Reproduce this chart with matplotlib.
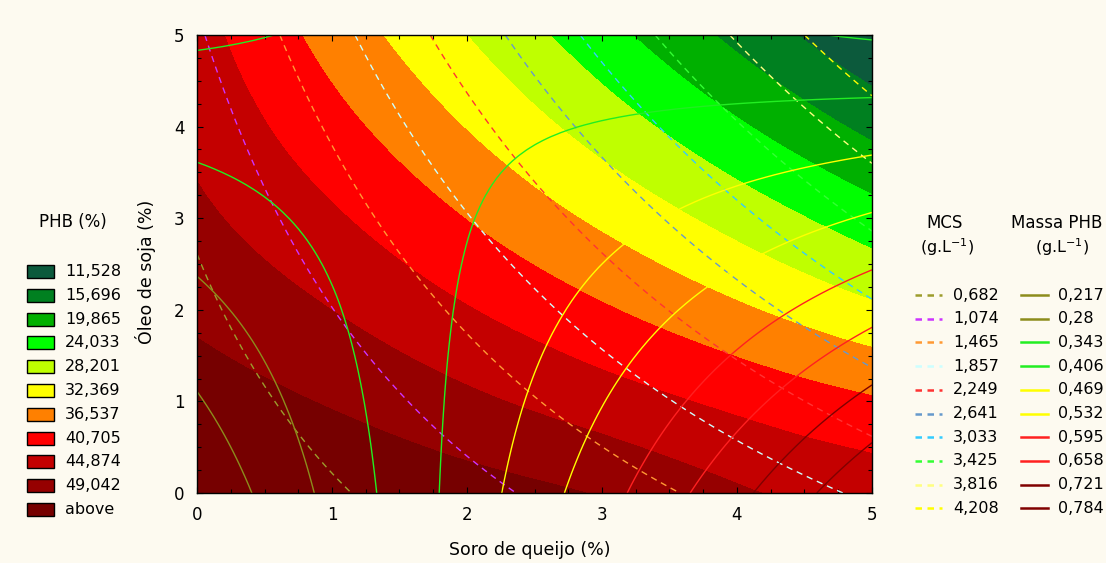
import numpy as np
import matplotlib
matplotlib.use('Agg')
import matplotlib.pyplot as plt
import matplotlib.tri as mtri
from matplotlib.patches import Rectangle
from matplotlib.lines import Line2D
from matplotlib.ticker import MultipleLocator

# Grid nodes (Soro de queijo %, Óleo de soja %)
soro = [0, 1, 2, 3, 4, 5]
oleo = [0, 1, 2, 3, 4, 5]

# PHB (%) read at the grid nodes; rows = oleo 0..5, cols = soro 0..5
phb = [
    [53.80, 52.78, 50.77, 48.73, 45.40, 43.20],
    [51.00, 48.68, 45.73, 42.74, 39.71, 37.00],
    [48.20, 44.85, 40.95, 37.01, 33.03, 29.02],
    [45.70, 41.28, 36.43, 31.54, 26.62, 21.66],
    [43.80, 37.98, 32.18, 26.34, 20.47, 14.56],
    [42.20, 34.94, 28.19, 21.41, 14.59, 7.73],
]
# MCS (g/L)
mcs = [
    [0.317, 0.636, 0.957, 1.279, 1.602, 1.927],
    [0.454, 0.850, 1.248, 1.647, 2.047, 2.448],
    [0.595, 1.068, 1.542, 2.017, 2.494, 2.972],
    [0.738, 1.288, 1.839, 2.391, 2.944, 3.499],
    [0.884, 1.511, 2.138, 2.767, 3.398, 4.029],
    [1.033, 1.737, 2.441, 3.147, 3.854, 4.562],
]
# Massa PHB (g/L)
massa = [
    [0.1616, 0.2979, 0.4340, 0.5697, 0.7047, 0.8388],
    [0.2116, 0.3178, 0.4239, 0.5296, 0.6347, 0.7390],
    [0.2616, 0.3376, 0.4136, 0.4892, 0.5644, 0.6388],
    [0.3120, 0.3576, 0.4033, 0.4488, 0.4939, 0.5383],
    [0.3629, 0.3781, 0.3934, 0.4086, 0.4235, 0.4378],
    [0.4148, 0.3994, 0.3842, 0.3690, 0.3536, 0.3376],
]

phb_levels = [11.528, 15.696, 19.865, 24.033, 28.201, 32.369, 36.537, 40.705, 44.874, 49.042]
phb_labels = ['11,528', '15,696', '19,865', '24,033', '28,201', '32,369', '36,537', '40,705', '44,874', '49,042', 'above']
phb_colors = ['#0c5a3c', '#008020', '#00b000', '#00ff00', '#bfff00', '#ffff00', '#ff8000', '#ff0000', '#c40000', '#960000', '#760000']
mcs_levels = [0.682, 1.074, 1.465, 1.857, 2.249, 2.641, 3.033, 3.425, 3.816, 4.208]
mcs_labels = ['0,682', '1,074', '1,465', '1,857', '2,249', '2,641', '3,033', '3,425', '3,816', '4,208']
mcs_colors = ['#9c9c2c', '#cc33ff', '#ff9933', '#ccffff', '#ff3333', '#6699cc', '#33ccff', '#33ff33', '#ffff80', '#ffff00']
massa_levels = [0.217, 0.28, 0.343, 0.406, 0.469, 0.532, 0.595, 0.658, 0.721, 0.784]
massa_labels = ['0,217', '0,28', '0,343', '0,406', '0,469', '0,532', '0,595', '0,658', '0,721', '0,784']
massa_colors = ['#8c8c1c', '#8c8c1c', '#22ee22', '#22ee22', '#ffff00', '#ffff00', '#ff2020', '#ff2020', '#800000', '#800000']

W, H = 1106, 563
BG = '#fdfaf0'
plt.rcParams['font.family'] = ['DejaVu Sans']
fig = plt.figure(figsize=(W / 100, H / 100), dpi=100, facecolor=BG)
fx = lambda px: px / W
fy = lambda py: 1 - py / H
ax = fig.add_axes([fx(197), fy(493), (872 - 197) / W, (493 - 35) / H])

GX, GY = np.meshgrid(soro, oleo)
tri = mtri.Triangulation(GX.ravel().astype(float), GY.ravel().astype(float))
ref = mtri.UniformTriRefiner(tri)
tP, zP = ref.refine_field(np.ravel(phb), subdiv=4)
tM, zM = ref.refine_field(np.ravel(mcs), subdiv=4)
tm, zm = ref.refine_field(np.ravel(massa), subdiv=4)

ax.tricontourf(tP, zP, levels=[-1000] + phb_levels + [1000], colors=phb_colors)
cs = ax.tricontour(tM, zM, levels=mcs_levels, colors=mcs_colors, linewidths=1.0)
cs.set_linestyle((0, (4.5, 3.5)))
ax.tricontour(tm, zm, levels=massa_levels, colors=massa_colors, linewidths=1.0)

ax.set_xlim(0, 5); ax.set_ylim(0, 5)
ax.set_xticks(range(6)); ax.set_yticks(range(6))
ax.xaxis.set_minor_locator(MultipleLocator(0.25)); ax.yaxis.set_minor_locator(MultipleLocator(0.25))
ax.tick_params(which='both', direction='in', top=True, right=True, width=0.8)
ax.tick_params(which='major', length=4, labelsize=12, pad=9)
ax.tick_params(which='minor', length=3)
for s in ax.spines.values():
    s.set_linewidth(1.0)

fig.text(fx(530), fy(550), 'Soro de queijo (%)', ha='center', va='center', fontsize=12.5)
fig.text(fx(146), fy(272), 'Óleo de soja (%)', ha='center', va='center', fontsize=12.5, rotation=90)

# PHB legend
fig.text(fx(73), fy(222), 'PHB (%)', ha='center', va='center', fontsize=12)
for i, (lab, col) in enumerate(zip(phb_labels, phb_colors)):
    top = 265 + i * 23.8
    fig.add_artist(Rectangle((fx(27), fy(top + 13)), (54 - 27) / W, 13 / H, transform=fig.transFigure,
                             facecolor=col, edgecolor='black', linewidth=1.0))
    fig.text(fx(65), fy(top + 6.5), lab, ha='left', va='center', fontsize=11.5)

# MCS legend
fig.text(fx(945), fy(223), 'MCS', ha='center', va='center', fontsize=12)
fig.text(fx(947), fy(247), r'(g.L$^{\mathregular{-1}}$)', ha='center', va='center', fontsize=11.5)
for i, (lab, col) in enumerate(zip(mcs_labels, mcs_colors)):
    yy = 295 + i * 23.7
    fig.add_artist(Line2D([fx(915), fx(942)], [fy(yy), fy(yy)], transform=fig.transFigure,
                          color=col, lw=1.8, dashes=(2.6, 2.2)))
    fig.text(fx(953), fy(yy), lab, ha='left', va='center', fontsize=11.5)

# Massa PHB legend
fig.text(fx(1011), fy(223), 'Massa PHB', ha='left', va='center', fontsize=12)
fig.text(fx(1062), fy(247), r'(g.L$^{\mathregular{-1}}$)', ha='center', va='center', fontsize=11.5)
for i, (lab, col) in enumerate(zip(massa_labels, massa_colors)):
    yy = 295 + i * 23.7
    fig.add_artist(Line2D([fx(1021), fx(1048)], [fy(yy), fy(yy)], transform=fig.transFigure,
                          color=col, lw=1.8))
    fig.text(fx(1058), fy(yy), lab, ha='left', va='center', fontsize=11.5)

fig.savefig('out.png', dpi=100, facecolor=BG)
